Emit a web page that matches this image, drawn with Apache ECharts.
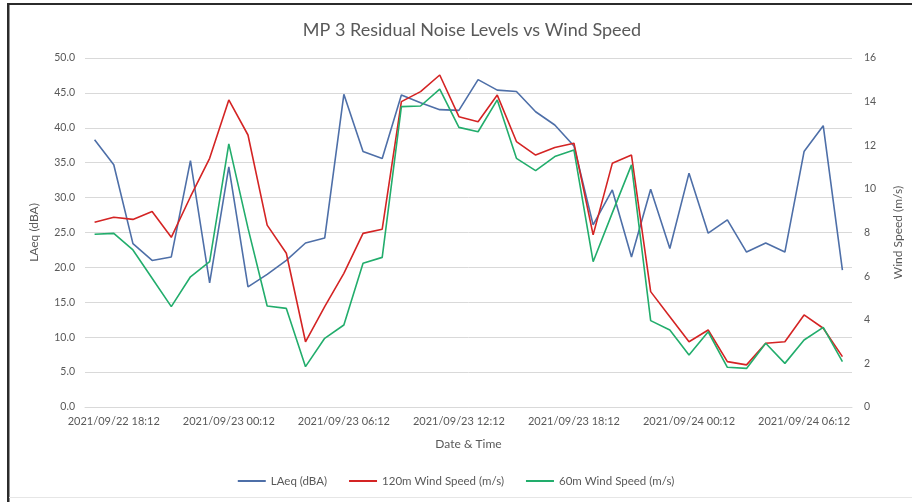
<!DOCTYPE html>
<html>
<head>
<meta charset="utf-8">
<script src="https://cdn.jsdelivr.net/npm/echarts@6/dist/echarts.min.js"></script>
<style>
html,body{margin:0;padding:0;background:#fff;}
#chart{width:912px;height:502px;}
</style>
</head>
<body>
<div id="chart"></div>
<script>
// Categories: hourly readings from 2021/09/22 17:12
const categories = [
  "2021/09/22 17:12","2021/09/22 18:12","2021/09/22 19:12","2021/09/22 20:12","2021/09/22 21:12",
  "2021/09/22 22:12","2021/09/22 23:12","2021/09/23 00:12","2021/09/23 01:12","2021/09/23 02:12",
  "2021/09/23 03:12","2021/09/23 04:12","2021/09/23 05:12","2021/09/23 06:12","2021/09/23 07:12",
  "2021/09/23 08:12","2021/09/23 09:12","2021/09/23 10:12","2021/09/23 11:12","2021/09/23 12:12",
  "2021/09/23 13:12","2021/09/23 14:12","2021/09/23 15:12","2021/09/23 16:12","2021/09/23 17:12",
  "2021/09/23 18:12","2021/09/23 19:12","2021/09/23 20:12","2021/09/23 21:12","2021/09/23 22:12",
  "2021/09/23 23:12","2021/09/24 00:12","2021/09/24 01:12","2021/09/24 02:12","2021/09/24 03:12",
  "2021/09/24 04:12","2021/09/24 05:12","2021/09/24 06:12","2021/09/24 07:12","2021/09/24 08:12"
];
const laeq = [
  38.3,34.7,23.4,21.0,21.5,35.3,17.8,34.4,17.2,19.0,
  21.0,23.5,24.2,44.8,36.6,35.6,44.7,43.6,42.6,42.5,
  46.9,45.4,45.2,42.3,40.4,37.4,26.1,31.1,21.5,31.2,
  22.7,33.5,24.9,26.8,22.2,23.5,22.2,36.6,40.3,19.6
];
const wind120 = [
  8.47,8.70,8.60,8.96,7.78,9.64,11.4,14.08,12.47,8.34,
  7.05,2.99,4.60,6.13,7.96,8.15,14.0,14.46,15.22,13.31,
  13.08,14.3,12.17,11.55,11.9,12.09,7.89,11.17,11.55,5.29,
  4.14,2.99,3.53,2.08,1.93,2.92,2.99,4.22,3.61,2.31
];
const wind60 = [
  7.92,7.96,7.2,5.9,4.6,5.97,6.66,12.06,8.2,4.63,
  4.52,1.85,3.15,3.76,6.59,6.86,13.77,13.8,14.57,12.82,
  12.62,14.08,11.4,10.84,11.48,11.78,6.66,8.9,11.1,3.96,
  3.53,2.38,3.45,1.82,1.77,2.92,2.0,3.07,3.65,2.08
];
const seriesNames = ["LAeq (dBA)","120m Wind Speed (m/s)","60m Wind Speed (m/s)"];

const FONT = "Lato";
const TXT = "#595959";
const chart = echarts.init(document.getElementById('chart'));
chart.setOption({
  backgroundColor: '#ffffff',
  animation: false,
  textStyle: {fontFamily: FONT},
  title: {
    text: "MP 3 Residual Noise Levels vs Wind Speed",
    left: 467, top: 16, textAlign: 'center',
    textStyle: {fontFamily: FONT, fontSize: 18, fontWeight: 'normal', color: TXT}
  },
  legend: {
    data: seriesNames,
    bottom: 10, left: 'center',
    itemWidth: 28, itemHeight: 2, itemGap: 22,
    icon: 'rect',
    textStyle: {fontFamily: FONT, fontSize: 11.5, color: TXT}
  },
  grid: {left: 85, right: 54, top: 58, bottom: 95},
  xAxis: {
    type: 'category',
    data: categories,
    boundaryGap: true,
    name: "Date & Time",
    nameLocation: 'middle',
    nameGap: 31,
    nameTextStyle: {fontFamily: FONT, fontSize: 12, color: TXT},
    axisLine: {lineStyle: {color: '#d9d9d9'}},
    axisTick: {show: false},
    axisLabel: {
      interval: function (idx) { return (idx - 1) % 6 === 0; },
      fontFamily: FONT, fontSize: 11, color: TXT, margin: 9
    }
  },
  yAxis: [{
    type: 'value', min: 0, max: 50, interval: 5,
    name: "LAeq (dBA)", nameLocation: 'middle', nameGap: 45,
    nameTextStyle: {fontFamily: FONT, fontSize: 12, color: TXT},
    axisLine: {show: false}, axisTick: {show: false},
    axisLabel: {formatter: v => v.toFixed(1), fontFamily: FONT, fontSize: 10.5, color: TXT, margin: 10},
    splitLine: {lineStyle: {color: '#d9d9d9', width: 1}}
  }, {
    type: 'value', min: 0, max: 16, interval: 2, position: 'right',
    name: "Wind Speed (m/s)", nameLocation: 'middle', nameGap: 40,
    nameTextStyle: {fontFamily: FONT, fontSize: 12, color: TXT},
    axisLine: {show: false}, axisTick: {show: false},
    axisLabel: {fontFamily: FONT, fontSize: 10.5, color: TXT, margin: 12},
    splitLine: {show: false}
  }],
  series: [{
    name: seriesNames[0], type: 'line', yAxisIndex: 0, data: laeq,
    symbol: 'none', lineStyle: {color: '#4e6fa8', width: 1.6}, itemStyle: {color: '#4e6fa8'}
  }, {
    name: seriesNames[1], type: 'line', yAxisIndex: 1, data: wind120,
    symbol: 'none', lineStyle: {color: '#d42424', width: 1.6}, itemStyle: {color: '#d42424'}
  }, {
    name: seriesNames[2], type: 'line', yAxisIndex: 1, data: wind60,
    symbol: 'none', lineStyle: {color: '#22ad6c', width: 1.6}, itemStyle: {color: '#22ad6c'}
  }],
  graphic: [
    {type: 'rect', shape: {x: 7, y: 3, width: 2.5, height: 499}, style: {fill: '#2b2b2b'}},
    {type: 'rect', shape: {x: 7, y: 3, width: 905, height: 2}, style: {fill: '#2b2b2b'}},
    {type: 'rect', shape: {x: 9, y: 497, width: 903, height: 1}, style: {fill: '#e6e6e6'}}
  ]
});
</script>
</body>
</html>
